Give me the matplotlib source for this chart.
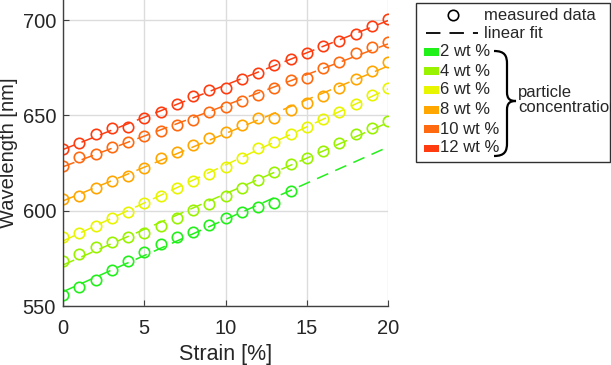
import numpy as np
import matplotlib
matplotlib.use('Agg')
import matplotlib.pyplot as plt
from matplotlib.lines import Line2D
from matplotlib.patches import Rectangle, PathPatch
from matplotlib.path import Path

plt.rcParams['font.family'] = ['Liberation Sans', 'DejaVu Sans']

# data
strain = list(range(21))
w2 = [555.7, 559.8, 563.6, 568.8, 573.6, 578.4, 582.3, 586.0, 588.9, 592.4, 596.0,
      599.1, 601.7, 604.1, 610.4]
w4 = [573.6, 577.1, 581.1, 583.4, 586.3, 588.4, 591.9, 596.1, 600.3, 603.3, 607.7,
      611.7, 616.0, 620.4, 624.3, 627.4, 631.4, 635.6, 640.0, 643.2, 647.2]
w6 = [586.3, 588.1, 591.9, 596.3, 599.4, 603.8, 607.7, 611.7, 615.7, 619.2, 623.0,
      627.5, 632.7, 635.8, 640.0, 644.0, 647.9, 651.9, 655.9, 660.7, 664.5]
w8 = [605.9, 607.7, 611.7, 615.5, 618.3, 622.5, 627.5, 630.9, 634.4, 637.9, 641.4,
      644.9, 648.7, 648.4, 653.0, 656.3, 660.3, 664.5, 669.0, 673.4, 677.8]
w10 = [623.6, 628.3, 629.5, 633.2, 636.2, 639.3, 641.9, 644.8, 647.5, 651.9, 654.2,
       657.7, 660.7, 664.2, 668.3, 669.7, 674.6, 678.1, 682.5, 685.7, 688.3]
w12 = [632.2, 635.3, 640.3, 643.2, 643.7, 648.4, 651.9, 656.0, 660.3, 663.3, 664.5,
       668.9, 672.0, 676.4, 679.4, 682.5, 686.5, 689.0, 692.7, 696.9, 700.4]

series = [w2, w4, w6, w8, w10, w12]
labels = ['2 wt %', '4 wt %', '6 wt %', '8 wt %', '10 wt %', '12 wt %']
colors = ['#22f01a', '#99f200', '#e8f500', '#ffa600', '#ff6a10', '#ff3c10']

W, H = 611, 365
fig = plt.figure(figsize=(W / 100, H / 100), dpi=100)
ax = fig.add_axes([63 / W, (H - 306) / H, 325 / W, 306 / H])

xfit = np.array([0, 20])
for w, c in zip(series, colors):
    x = np.array(strain[:len(w)])
    p = np.polyfit(x, w, 1)
    ax.plot(xfit, np.polyval(p, xfit), color=c, lw=1.1, dashes=(8, 5))
    ax.plot(x, w, 'o', mfc='none', mec=c, ms=7.5, mew=1.2)

ax.set_xlim(0, 20)
ax.set_ylim(550, 710.5)
ax.set_xticks([0, 5, 10, 15, 20])
ax.set_yticks([550, 600, 650, 700])
ax.grid(True, color='#dcdcdc', lw=1)
ax.set_axisbelow(True)
for s in ['top', 'right']:
    ax.spines[s].set_visible(False)
for s in ['left', 'bottom']:
    ax.spines[s].set_color('#404040')
    ax.spines[s].set_linewidth(1.0)
ax.tick_params(direction='in', length=4, color='#404040', labelsize=14.5,
               labelcolor='#262626')
ax.tick_params(axis='x', pad=9)
ax.tick_params(axis='y', pad=5)
ax.set_xlabel('Strain [%]', fontsize=15.5, color='#262626', labelpad=5)
ax.set_ylabel('Wavelength [nm]', fontsize=14.5, color='#262626', labelpad=3)


# hand made legend, positions in pixels of the figure
def fx(px):
    return px / W


def fy(py):
    return 1 - py / H


fig.patches.append(Rectangle((fx(416), fy(162)), fx(610) - fx(416), fy(3) - fy(162),
                             transform=fig.transFigure, fill=True, fc='white',
                             ec='#303030', lw=1.0))
fig.lines.append(Line2D([fx(453)], [fy(15)], marker='o', mfc='none', mec='k',
                        ms=7.5, mew=1.2, transform=fig.transFigure))
fig.text(fx(484), fy(15), 'measured data', fontsize=12, va='center', color='#262626')
fig.lines.append(Line2D([fx(426), fx(478)], [fy(33), fy(33)], color='k', lw=1.3,
                        dashes=(8, 5), transform=fig.transFigure))
fig.text(fx(484), fy(33), 'linear fit', fontsize=12, va='center', color='#262626')

rows = [52, 71, 90, 110, 129, 148]
for r, c, lab in zip(rows, colors, labels):
    fig.patches.append(Rectangle((fx(424), fy(r + 3.5)), fx(15), 7 / H,
                                 transform=fig.transFigure, fc=c, ec='none'))
    fig.text(fx(440), fy(r), lab, fontsize=12, va='center', color='#262626')

# curly brace
verts = [(494, 51), (505, 51), (507, 56), (507, 64),
         (507, 92),
         (507, 99), (510, 101), (516, 101),
         (510, 101), (507, 103), (507, 110),
         (507, 143),
         (507, 151), (505, 156), (494, 156)]
codes = [Path.MOVETO, Path.CURVE4, Path.CURVE4, Path.CURVE4,
         Path.LINETO,
         Path.CURVE4, Path.CURVE4, Path.CURVE4,
         Path.CURVE4, Path.CURVE4, Path.CURVE4,
         Path.LINETO,
         Path.CURVE4, Path.CURVE4, Path.CURVE4]
bp = Path([(fx(a), fy(b)) for a, b in verts], codes)
fig.patches.append(PathPatch(bp, fill=False, ec='k', lw=1.6, transform=fig.transFigure))
fig.text(fx(518), fy(92), 'particle', fontsize=12, va='center', color='#262626')
fig.text(fx(518), fy(108), 'concentration', fontsize=12, va='center', color='#262626')

fig.savefig('out.png', dpi=100)
